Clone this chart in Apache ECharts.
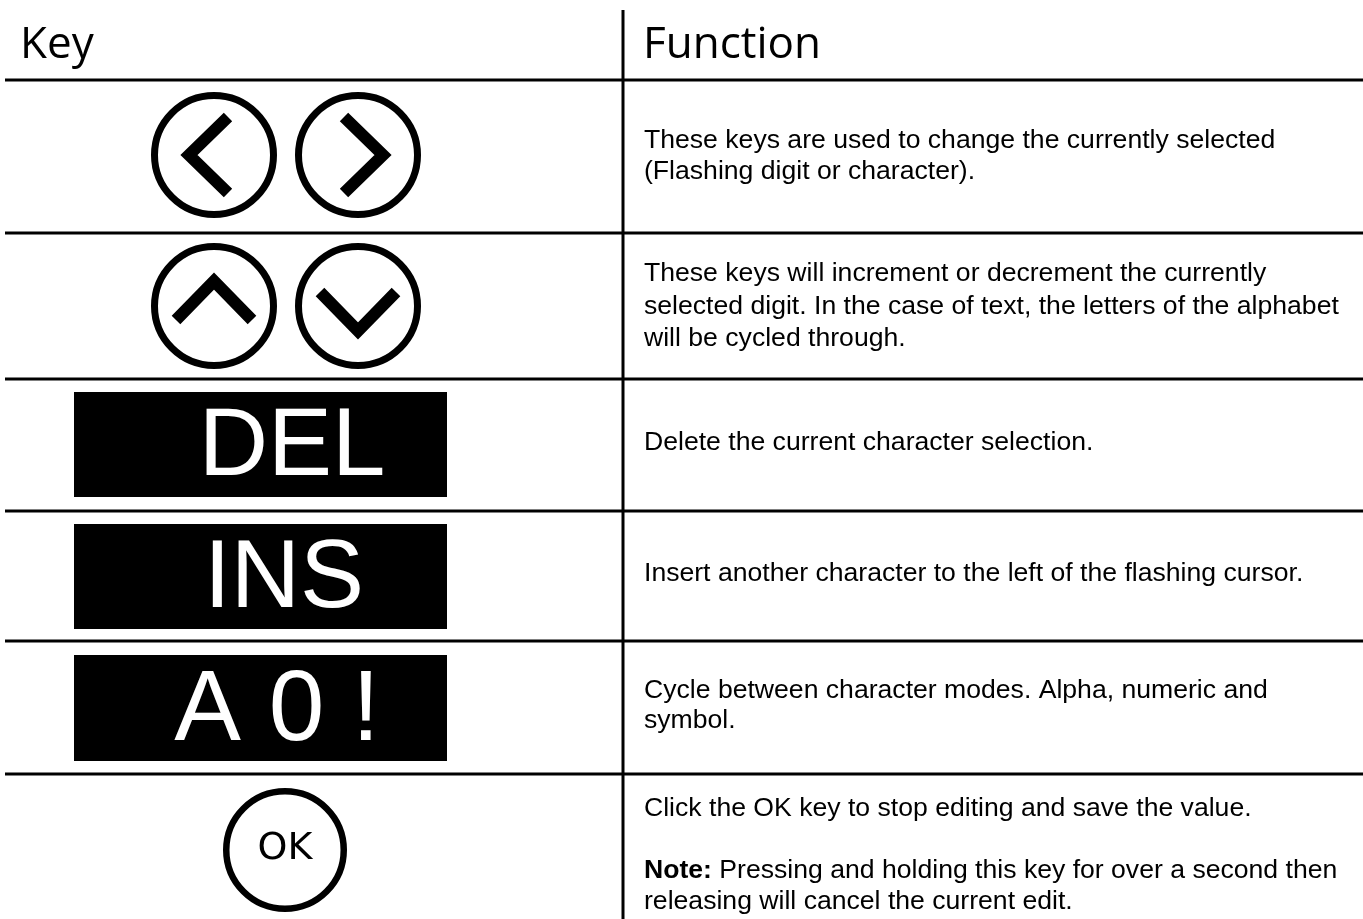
<!DOCTYPE html>
<html>
<head>
<meta charset="utf-8">
<script src="https://cdn.jsdelivr.net/npm/echarts@6/dist/echarts.min.js"></script>
<style>
html,body{margin:0;padding:0;background:#fff;}
#chart{width:1363px;height:919px;}
</style>
</head>
<body>
<div id="chart"></div>
<script>
// ---------- content ----------
const headers = ['Key', 'Function'];
const keyKinds = ['leftRight', 'upDown', 'label', 'label', 'label', 'ok'];
const keyLabels = ['', '', 'DEL', 'INS', 'A 0 !', 'OK'];
const functionLines = [
  ['These keys are used to change the currently selected', '(Flashing digit or character).'],
  ['These keys will increment or decrement the currently', 'selected digit. In the case of text, the letters of the alphabet', 'will be cycled through.'],
  ['Delete the current character selection.'],
  ['Insert another character to the left of the flashing cursor.'],
  ['Cycle between character modes. Alpha, numeric and', 'symbol.'],
  ['Click the OK key to stop editing and save the value.', '', '{b|Note:} Pressing and holding this key for over a second then', 'releasing will cancel the current edit.']
];

// ---------- layout (page units) ----------
const W = 1363, H = 919;
const rowEdges = [80, 233, 379, 511, 641, 774, 919];
const colSplit = 623;
const textX = 644;
const bodySize = 26.6;
const firstBaseline = [150, 283, 452, 583, 700, 818];
const lineStep = [31, 32.5, 31, 31, 30, 31];
const headerX = [20, 643];
const headerBaseline = 61;
const headerSize = 44;
const circleCX = [214, 358];
const circleCY = [155, 306];
const circleR = 59.5;
const boxX = [74, 447];
const boxY = [[392, 497], [524, 629], [655, 761]];
const boxLabelX = [292, 284, 277];
const boxLabelBaseline = [482, 614, 747];
const okCenter = [285, 850];

const ink = '#000';
const bodyFont = '"Liberation Sans", Arial, sans-serif';

function chevron(api, cx, cy, dir) {
  // base shape: pointing left, tip (-25,0), ends (14,+-38)
  const base = [[14, -38], [-25, 0], [14, 38]];
  const pts = base.map(([x, y]) => {
    let px = x, py = y;
    if (dir === 'right') { px = -x; }
    if (dir === 'up') { px = y; py = x; }
    if (dir === 'down') { px = y; py = -x; }
    return api.coord([cx + px, cy + py]);
  });
  return {
    type: 'polyline',
    shape: { points: pts },
    style: { stroke: ink, lineWidth: 12, fill: null, lineJoin: 'miter', lineCap: 'butt', miterLimit: 10 }
  };
}

function ring(api, cx, cy, r, lw) {
  const c = api.coord([cx, cy]);
  return { type: 'circle', shape: { cx: c[0], cy: c[1], r: r }, style: { fill: '#fff', stroke: ink, lineWidth: lw } };
}

function renderRow(params, api) {
  const i = api.value(0);
  const children = [];
  const yTop = rowEdges[i];
  const a = api.coord([5, yTop]), b = api.coord([W, yTop]);
  children.push({ type: 'line', shape: { x1: a[0], y1: a[1], x2: b[0], y2: b[1] }, style: { stroke: ink, lineWidth: 3 } });

  const kind = keyKinds[i];
  if (kind === 'leftRight' || kind === 'upDown') {
    const cy = circleCY[i];
    children.push(ring(api, circleCX[0], cy, circleR, 7));
    children.push(ring(api, circleCX[1], cy, circleR, 7));
    if (kind === 'leftRight') {
      children.push(chevron(api, circleCX[0], cy, 'left'));
      children.push(chevron(api, circleCX[1], cy, 'right'));
    } else {
      children.push(chevron(api, circleCX[0], cy, 'up'));
      children.push(chevron(api, circleCX[1], cy, 'down'));
    }
  } else if (kind === 'label') {
    const k = i - 2;
    const p0 = api.coord([boxX[0], boxY[k][0]]);
    const p1 = api.coord([boxX[1], boxY[k][1]]);
    children.push({ type: 'rect', shape: { x: p0[0], y: p0[1], width: p1[0] - p0[0], height: p1[1] - p0[1] }, style: { fill: '#000' } });
    const fs = k === 2 ? 100 : 96;
    const t = api.coord([boxLabelX[k], boxLabelBaseline[k] - fs * 0.3465]);
    children.push({ type: 'text', x: t[0], y: t[1], style: { text: keyLabels[i], fill: '#fff', font: 'normal ' + fs + 'px ' + bodyFont, align: 'center', verticalAlign: 'middle' } });
  } else if (kind === 'ok') {
    children.push(ring(api, okCenter[0], okCenter[1], 58.75, 6.5));
    const t = api.coord([okCenter[0], okCenter[1] - 1]);
    children.push({ type: 'text', x: t[0], y: t[1], style: { text: keyLabels[i], fill: ink, font: 'normal 38px "DejaVu Sans", sans-serif', align: 'center', verticalAlign: 'middle' } });
  }

  functionLines[i].forEach((line, j) => {
    if (!line) return;
    const base = firstBaseline[i] + j * lineStep[i];
    const p = api.coord([textX, base - bodySize * 0.3465]);
    children.push({
      type: 'text', x: p[0], y: p[1],
      style: {
        text: line, fill: ink, font: 'normal ' + bodySize + 'px ' + bodyFont, align: 'left', verticalAlign: 'middle',
        rich: { b: { fontWeight: 'bold', fontSize: bodySize, fontFamily: bodyFont, fill: ink } }
      }
    });
  });
  return { type: 'group', children: children };
}

function renderHeader(params, api) {
  const i = api.value(0);
  const p = api.coord([headerX[i], headerBaseline - headerSize * 0.36]);
  const children = [{
    type: 'text', x: p[0], y: p[1],
    style: { text: headers[i], fill: ink, font: 'normal ' + headerSize + 'px "Open Sans", "Noto Sans", sans-serif', align: 'left', verticalAlign: 'middle' }
  }];
  if (i === 1) {
    const a = api.coord([colSplit, 10]), b = api.coord([colSplit, H]);
    children.push({ type: 'line', shape: { x1: a[0], y1: a[1], x2: b[0], y2: b[1] }, style: { stroke: ink, lineWidth: 3 } });
  }
  return { type: 'group', children: children };
}

const chart = echarts.init(document.getElementById('chart'), null, { renderer: 'canvas' });
chart.setOption({
  backgroundColor: '#fff',
  animation: false,
  grid: { left: 0, right: 0, top: 0, bottom: 0 },
  xAxis: { type: 'value', min: 0, max: W, show: false },
  yAxis: { type: 'value', min: 0, max: H, inverse: true, show: false },
  series: [
    { type: 'custom', name: 'rows', renderItem: renderRow, data: keyKinds.map((k, i) => [i]), silent: true, clip: false },
    { type: 'custom', name: 'header', renderItem: renderHeader, data: headers.map((h, i) => [i]), silent: true, clip: false }
  ]
});
</script>
</body>
</html>
